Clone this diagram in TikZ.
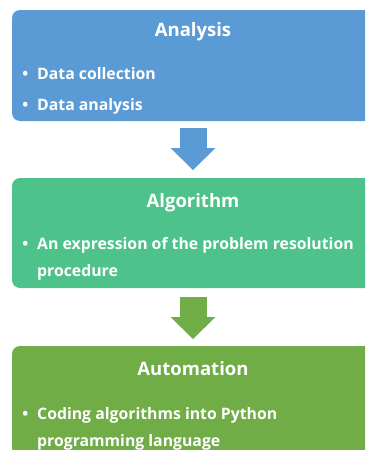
\documentclass[tikz,border=0pt]{standalone}
\usepackage{fontspec}
\setmainfont{Open Sans}
\usetikzlibrary{arrows.meta,positioning}

\definecolor{anablue}{HTML}{5B9BD5}
\definecolor{algmint}{HTML}{4DC38B}
\definecolor{autgreen}{HTML}{70AD47}

\begin{document}
\begin{tikzpicture}[x=1pt, y=-1pt,
        box/.style={rectangle, rounded corners=8pt, minimum width=362pt, inner sep=0pt, outer sep=0pt},
        head/.style={text=white, anchor=base, inner sep=0pt, font=\fontsize{18.5}{22}\selectfont\bfseries},
        item/.style={text=white, anchor=base west, align=left, inner sep=0pt, font=\fontsize{15.8}{26.7}\selectfont\bfseries},
        blockarrow/.style={line width=27pt, -{Triangle[width=45pt, length=22pt, line width=0pt]}}]
                \clip (0,0) rectangle (365,450);

                % the three stages
                \node[box, fill=anablue, minimum height=111pt] (ana) at (193,65.5) {};
                \node[box, fill=algmint, minimum height=110pt, below=57pt of ana] (alg) {};
                \node[box, fill=autgreen, minimum height=110pt, below=58pt of alg] (aut) {};

                \node[head] (anahead) at (193,36) {Analysis};
                \node[item] (anaitem1) at (37,79) {\llap{\textbullet\hspace{9pt}}Data collection};
                \node[item] (anaitem2) at (37,110) {\llap{\textbullet\hspace{9pt}}Data analysis};

                % base of a two-line item sits on its last line
                \node[head] (alghead) at (193,207) {Algorithm};
                \node[item] (algitem) at (37,276) {\llap{\textbullet\hspace{9pt}}An expression of the problem resolution\\procedure};

                \node[head] (authead) at (193,375.5) {Automation};
                \node[item] (autitem) at (37,446) {\llap{\textbullet\hspace{9pt}}Coding algorithms into Python\\programming language};

                % block arrows between the stages
                \draw[blockarrow, anablue, shorten <=7pt, shorten >=8pt] (ana) -- (alg);
                \draw[blockarrow, autgreen, shorten <=9pt, shorten >=7pt] (alg) -- (aut);
\end{tikzpicture}
\end{document}
